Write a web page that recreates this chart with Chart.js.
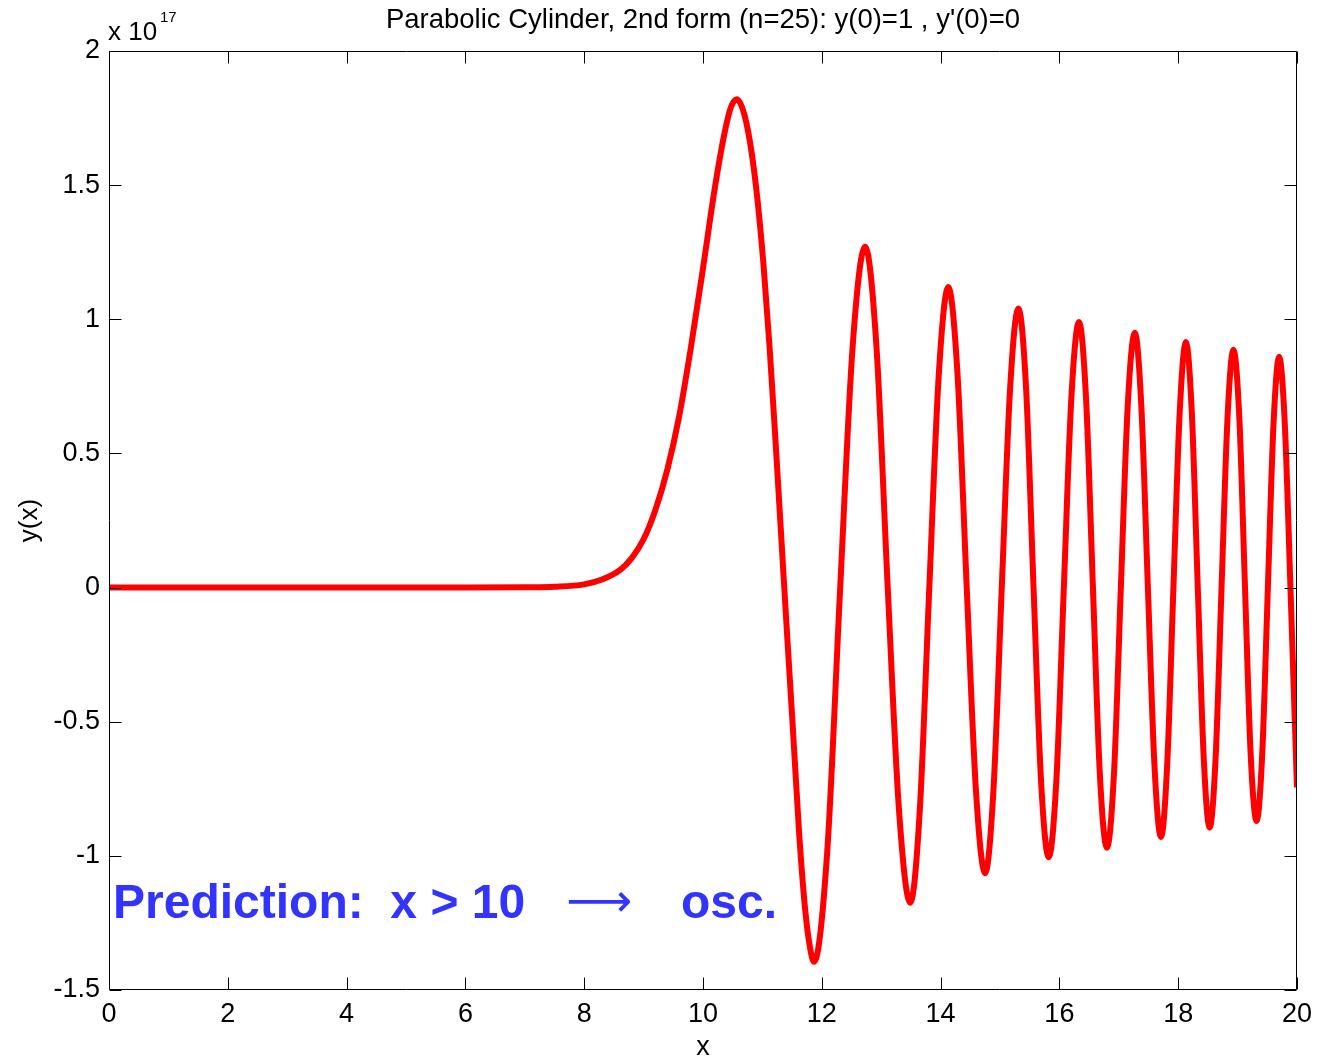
<!DOCTYPE html>
<html>
<head>
<meta charset="utf-8">
<title>Parabolic Cylinder, 2nd form</title>
<script src="https://cdn.jsdelivr.net/npm/chart.js@4.4.1/dist/chart.umd.min.js"></script>
<style>
    html, body { margin: 0; padding: 0; background: #ffffff; }
    #wrap { width: 1320px; height: 1064px; }
</style>
</head>
<body>
<div id="wrap"><canvas id="pcChart" width="1320" height="1064"></canvas></div>
<script>
// values, y in units of 1e17
var xValues = [
    0, 1, 2, 3, 4, 5, 6, 7, 7.5, 8.0,
    8.3, 8.6, 8.8, 9.0, 9.2, 9.4, 9.6, 9.8, 10.0, 10.2,
    10.35, 10.47, 10.57,
    10.70, 10.82, 10.92, 11.02, 11.12, 11.22, 11.32, 11.42, 11.52, 11.62,
    11.72, 11.80, 11.87,
    12.09, 12.31, 12.52, 12.73,
    12.92, 13.11, 13.30, 13.49,
    13.65, 13.81, 13.97, 14.13,
    14.285, 14.44, 14.595, 14.75,
    14.89, 15.03, 15.17, 15.31,
    15.44, 15.565, 15.69, 15.82,
    15.95, 16.075, 16.20, 16.33,
    16.45, 16.565, 16.68, 16.80,
    16.92, 17.035, 17.15, 17.27,
    17.38, 17.49, 17.60, 17.71,
    17.815, 17.92, 18.025, 18.13,
    18.23, 18.33, 18.43, 18.53,
    18.63, 18.73, 18.83, 18.93,
    19.03, 19.125, 19.22, 19.32,
    19.415, 19.51, 19.605, 19.70,
    19.795, 19.89, 20.0
];
var yValues = [
    0, 0, 0, 0, 0, 0, 0, 0.001, 0.003, 0.012,
    0.03, 0.065, 0.11, 0.18, 0.29, 0.44, 0.64, 0.90, 1.19, 1.49,
    1.68, 1.79, 1.82,
    1.76, 1.62, 1.44, 1.20, 0.90, 0.55, 0.18, -0.19, -0.55, -0.92,
    -1.20, -1.34, -1.395,
    -0.99, 0, 0.90, 1.27,
    0.90, 0, -0.83, -1.175,
    -0.83, 0, 0.795, 1.12,
    0.795, 0, -0.755, -1.065,
    -0.755, 0, 0.74, 1.04,
    0.74, 0, -0.715, -1.005,
    -0.715, 0, 0.70, 0.99,
    0.70, 0, -0.69, -0.97,
    -0.69, 0, 0.675, 0.95,
    0.675, 0, -0.66, -0.93,
    -0.66, 0, 0.65, 0.915,
    0.65, 0, -0.635, -0.895,
    -0.635, 0, 0.63, 0.886,
    0.63, 0, -0.62, -0.87,
    -0.62, 0, 0.61, 0.86,
    0.61, 0, -0.745
];
var xTicks = [0, 2, 4, 6, 8, 10, 12, 14, 16, 18, 20];
var yTicks = [-1.5, -1, -0.5, 0, 0.5, 1, 1.5, 2];

var fontFamily = "'Liberation Sans', Arial, Helvetica, sans-serif";
var titleText = "Parabolic Cylinder, 2nd form (n=25): y(0)=1 , y'(0)=0";

var points = [];
for (var i = 0; i < xValues.length; i++) {
    points.push({ x: xValues[i], y: yValues[i] });
}

// box round the axes, inward ticks on all four sides, exponent and note
var matlabFrame = {
    id: 'matlabFrame',
    afterDatasetsDraw: function (chart) {
        var ctx = chart.ctx;
        var a = chart.chartArea;
        var sx = chart.scales.x, sy = chart.scales.y;
        var L = Math.round(a.left) + 0.5, R = Math.round(a.right) - 0.5;
        var T = Math.round(a.top) + 0.5, B = Math.round(a.bottom) - 0.5;
        var tick = 12;
        ctx.save();
        ctx.strokeStyle = '#000000';
        ctx.lineWidth = 1;
        ctx.beginPath();
        ctx.rect(L, T, R - L, B - T);
        xTicks.forEach(function (v) {
            var px = Math.round(sx.getPixelForValue(v)) + 0.5;
            ctx.moveTo(px, B); ctx.lineTo(px, B - tick);
            ctx.moveTo(px, T); ctx.lineTo(px, T + tick);
        });
        yTicks.forEach(function (v) {
            var py = Math.round(sy.getPixelForValue(v)) + 0.5;
            ctx.moveTo(L, py); ctx.lineTo(L + tick, py);
            ctx.moveTo(R, py); ctx.lineTo(R - tick, py);
        });
        ctx.stroke();

        // exponent label
        ctx.fillStyle = '#000000';
        ctx.textBaseline = 'alphabetic';
        ctx.textAlign = 'left';
        ctx.font = '26px ' + fontFamily;
        ctx.fillText('x 10', a.left - 1, a.top - 11);
        ctx.font = '15px ' + fontFamily;
        ctx.fillText('17', a.left + 51, a.top - 29);

        // prediction note
        ctx.fillStyle = '#3333ff';
        ctx.font = 'bold 48px ' + fontFamily;
        ctx.fillText('Prediction:  x > 10', a.left + 4, 918);
        ctx.font = '46px DejaVu Sans';
        ctx.fillText('\u27F6', a.left + 457, 916);
        ctx.font = 'bold 48px ' + fontFamily;
        ctx.fillText('osc.', a.left + 572, 918);
        ctx.restore();
    }
};

new Chart(document.getElementById('pcChart'), {
    type: 'line',
    data: {
        datasets: [{
            label: 'y(x)',
            data: points,
            borderColor: '#ff0000',
            borderWidth: 6,
            pointRadius: 0,
            fill: false,
            cubicInterpolationMode: 'monotone'
        }]
    },
    options: {
        responsive: false,
        animation: false,
        devicePixelRatio: 1,
        events: [],
        layout: {
            padding: { top: 0, right: 21, bottom: 0, left: 0 }
        },
        plugins: {
            legend: { display: false },
            tooltip: { enabled: false },
            title: {
                display: true,
                text: titleText,
                fullSize: false,
                color: '#000000',
                font: { family: fontFamily, size: 27.5, weight: 'normal' },
                padding: { top: 4, bottom: 14 }
            }
        },
        scales: {
            x: {
                type: 'linear',
                min: 0,
                max: 20,
                afterBuildTicks: function (axis) {
                    axis.ticks = xTicks.map(function (v) { return { value: v }; });
                },
                afterFit: function (axis) { axis.height = 74; },
                grid: { display: false, drawTicks: false },
                border: { display: false },
                ticks: {
                    color: '#000000',
                    font: { family: fontFamily, size: 27 },
                    padding: 8,
                    maxRotation: 0,
                    autoSkip: false,
                    callback: function (v) { return String(v); }
                },
                title: {
                    display: true,
                    text: 'x',
                    color: '#000000',
                    font: { family: fontFamily, size: 27 },
                    padding: { top: 0, bottom: 0 }
                }
            },
            y: {
                type: 'linear',
                min: -1.5,
                max: 2,
                afterBuildTicks: function (axis) {
                    axis.ticks = yTicks.map(function (v) { return { value: v }; });
                },
                afterFit: function (axis) { axis.width = 109; },
                grid: { display: false, drawTicks: false },
                border: { display: false },
                ticks: {
                    color: '#000000',
                    font: { family: fontFamily, size: 27 },
                    padding: 9,
                    autoSkip: false,
                    callback: function (v) { return String(v); }
                },
                title: {
                    display: true,
                    text: 'y(x)',
                    color: '#000000',
                    font: { family: fontFamily, size: 26 },
                    padding: { top: 14, bottom: 0 }
                }
            }
        }
    },
    plugins: [matlabFrame]
});
</script>
</body>
</html>
